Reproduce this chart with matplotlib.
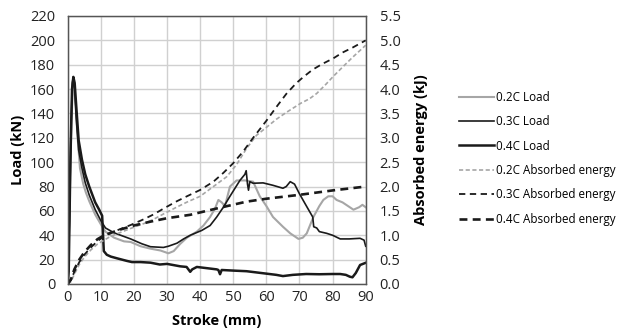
import matplotlib
matplotlib.use("Agg")
import matplotlib.pyplot as plt
from matplotlib.ticker import MultipleLocator, FormatStrFormatter

plt.rcParams['font.family'] = ['Open Sans', 'DejaVu Sans']

# ---- load curves (kN) vs stroke (mm)
x_02_load = [0, 0.4, 1.0, 1.5, 1.9, 2.3, 3.0, 3.7, 4.7, 5.5, 6.5, 8.3, 10, 11.4, 14, 17, 19, 22, 25, 28,
             30.4, 32, 34, 36, 39, 41, 43, 44.5, 45.5, 46.5, 47.5, 49, 51, 53.6, 56, 58, 60, 62, 65,
             67.2, 69.7, 71, 72.2, 74.2, 76, 77.2, 78.7, 80, 81.2, 83, 86.3, 88, 89, 90]
y_02_load = [0, 40, 120, 160, 165, 150, 120, 95, 82, 75, 68, 57, 49, 43, 38, 35, 34.5, 31, 29, 27.5,
             25.2, 27, 33, 38, 43, 48, 55, 62, 69, 67, 64, 80, 85, 85, 84, 72, 64, 55, 47,
             41.6, 37, 38, 41.6, 55, 64, 69, 72, 72, 69, 67, 61, 63, 65, 63]

x_03_load = [0, 0.5, 1.0, 1.4, 1.7, 2.1, 2.6, 3.3, 4.3, 5.3, 6.5, 8.3, 10, 11.4, 14, 17, 19, 22.4, 25,
             28.9, 30.4, 33, 35, 37, 40.5, 43, 45, 47, 49, 52, 53.5, 53.9, 54.3, 54.6, 55, 56, 59, 62,
             65, 66, 67.2, 68.5, 70, 72.2, 74, 74.3, 75.2, 76, 78.2, 80, 82.3, 85, 88.3, 89.5, 90]
y_03_load = [0, 50, 130, 165, 170, 160, 135, 110, 95, 83, 73, 61, 52, 46, 42, 39, 37, 33, 30.6,
             30, 31, 33.5, 37, 40, 44, 48, 55, 63, 72, 85, 90, 93, 82, 77, 84, 82.7, 83, 81,
             78.6, 80, 84, 82, 74, 63.5, 55, 47, 46, 43, 41.6, 40, 37, 37, 37.5, 36, 31]

x_04_load = [0, 0.3, 0.8, 1.3, 1.7, 2.1, 2.6, 3.3, 4.3, 5.3, 6.5, 8.3, 9.5, 10.4, 10.9, 11.8, 13, 15,
             17.8, 19.4, 22, 25, 27.8, 30, 32, 34, 35.9, 37, 37.6, 39, 42, 45, 45.5, 46, 46.5, 50,
             54, 57, 60, 63, 65, 68, 72, 76, 80, 82.3, 84, 85.2, 86, 87, 88.3, 90]
y_04_load = [0, 10, 100, 160, 170, 165, 145, 118, 102, 90, 80, 67, 61, 56, 27, 24, 22.5, 21,
             19, 18, 18, 17.5, 16, 16.5, 15.5, 14.5, 14, 10, 12, 14, 13, 12, 11.5, 8, 11.5, 11,
             10.5, 9.5, 8.5, 7.5, 6.5, 7.5, 8.2, 8, 8.2, 8.2, 7.5, 6, 5.5, 9, 15.6, 17.4]

# ---- absorbed energy (kJ) vs stroke (mm)
x_02_en = [0, 1, 2, 3.5, 5, 7, 9, 11, 13, 16, 19, 23, 26, 29, 33, 36, 40, 44, 48, 51, 54, 57,
           60.3, 63, 66, 70.4, 73, 75.2, 78, 80.2, 83, 86, 90]
y_02_en = [0, 0.05, 0.2, 0.4, 0.55, 0.7, 0.82, 0.9, 0.98, 1.06, 1.14, 1.24, 1.33, 1.44, 1.58, 1.68,
           1.8, 2.0, 2.2, 2.45, 2.78, 3.05, 3.23, 3.38, 3.52, 3.71, 3.8, 3.91, 4.1, 4.26, 4.45, 4.65, 4.9]

x_03_en = [0, 1, 2, 3.5, 5, 7, 9, 11, 13, 16, 19, 23, 26, 29, 33, 36, 40, 44, 47, 50, 53, 56,
           60, 63, 66, 69, 71.2, 74, 77, 80.2, 83, 86, 90]
y_03_en = [0, 0.08, 0.25, 0.45, 0.6, 0.75, 0.88, 0.98, 1.05, 1.13, 1.21, 1.33, 1.43, 1.55, 1.7, 1.8,
           1.93, 2.1, 2.28, 2.48, 2.72, 3.0, 3.35, 3.63, 3.9, 4.12, 4.25, 4.4, 4.52, 4.63, 4.75, 4.85, 5.0]

x_04_en = [0, 1, 2, 3.5, 5, 7, 9, 11, 13, 16, 20, 25, 30, 37, 45, 54, 60, 70, 80, 90]
y_04_en = [0, 0.1, 0.3, 0.5, 0.65, 0.8, 0.92, 1.0, 1.05, 1.12, 1.2, 1.28, 1.35, 1.42, 1.55, 1.69,
           1.75, 1.83, 1.92, 2.0]

gray = '#a6a6a6'
dark = '#1a1a1a'

fig = plt.figure(figsize=(6.19, 3.31), dpi=100)
ax = fig.add_axes([0.1094, 0.142, 0.4814, 0.8097])
ax2 = ax.twinx()

l1, = ax.plot(x_02_load, y_02_load, color=gray, lw=1.5, label='0.2C Load')
l2, = ax.plot(x_03_load, y_03_load, color=dark, lw=1.2, label='0.3C Load')
l3, = ax.plot(x_04_load, y_04_load, color=dark, lw=1.8, label='0.4C Load')

l4, = ax2.plot(x_02_en, y_02_en, color=gray, lw=1.2, dashes=(2.5, 1.5), label='0.2C Absorbed energy')
l5, = ax2.plot(x_03_en, y_03_en, color=dark, lw=1.3, dashes=(3.5, 2.5), label='0.3C Absorbed energy')
l6, = ax2.plot(x_04_en, y_04_en, color=dark, lw=1.9, dashes=(3, 2), label='0.4C Absorbed energy')

ax.set_xlim(0, 90)
ax.set_ylim(0, 220)
ax2.set_ylim(0, 5.5)
ax.xaxis.set_major_locator(MultipleLocator(10))
ax.yaxis.set_major_locator(MultipleLocator(20))
ax2.yaxis.set_major_locator(MultipleLocator(0.5))
ax2.yaxis.set_major_formatter(FormatStrFormatter('%.1f'))

ax.grid(True, color='#d0d0d0', lw=1.0)
ax.set_axisbelow(True)
for a in (ax, ax2):
    a.tick_params(length=0, labelsize=10.5, colors='#222222', pad=4)
    for s in a.spines.values():
        s.set_color('#555555')
        s.set_linewidth(0.9)
ax.tick_params(axis='y', pad=9)
ax2.tick_params(axis='y', pad=10)

ax.set_xlabel('Stroke (mm)', fontsize=10.5, fontweight='bold', labelpad=7)
ax.set_ylabel('Load (kN)', fontsize=10.5, fontweight='bold', labelpad=4)
ax2.set_ylabel('Absorbed energy (kJ)', fontsize=10.5, fontweight='bold', labelpad=10)

fig.legend(handles=[l1, l2, l3, l4, l5, l6], loc='upper left', bbox_to_anchor=(0.741, 0.726),
           frameon=False, fontsize=8.4, borderpad=0, borderaxespad=0, handlelength=3.0,
           handletextpad=0.2, labelspacing=0.98)

fig.savefig('out.png', dpi=100)
